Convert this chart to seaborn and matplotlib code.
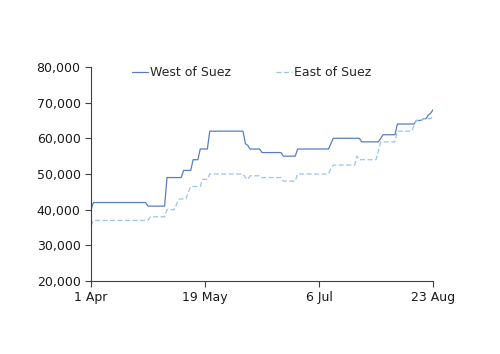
import matplotlib
matplotlib.use('Agg')
import matplotlib.pyplot as plt
import numpy as np
import pandas as pd
import seaborn as sns

# daily freight values, stored as (level, number of days) runs
west_levels = [40000, 42000, 41000, 49000, 51000, 54000, 57000, 62000, 58500, 58000,
               57000, 56000, 55000, 57000, 58500, 60000, 59000, 60000, 61000, 64000,
               65000, 65500, 66500, 67000, 68000]
west_days = [1, 23, 8, 7, 4, 3, 4, 15, 1, 1,
             5, 9, 6, 14, 1, 12, 8, 1, 6, 8,
             3, 2, 1, 1, 1]

east_levels = [35500, 37000, 38000, 40000, 41500, 43000, 45000, 46500, 48500, 50000,
               49000, 48500, 49500, 49000, 48000, 50000, 51500, 52500, 55000, 54000,
               56500, 59000, 62000, 63500, 65000, 65500, 66300]
east_days = [1, 24, 7, 4, 1, 4, 1, 5, 3, 15,
             1, 1, 5, 9, 6, 14, 1, 10, 1, 8,
             1, 7, 7, 1, 3, 4, 1]

series_names = ['West of Suez', 'East of Suez']
tick_dates = ['2022-04-01', '2022-05-19', '2022-07-06', '2022-08-23']
tick_labels = ['1 Apr', '19 May', '6 Jul', '23 Aug']
y_ticks = [20000, 30000, 40000, 50000, 60000, 70000, 80000]

west = np.repeat(west_levels, west_days)
east = np.repeat(east_levels, east_days)
dates = pd.date_range('2022-04-01', periods=len(west), freq='D')

df = pd.concat([
    pd.DataFrame({'date': dates, 'value': west, 'route': series_names[0]}),
    pd.DataFrame({'date': dates, 'value': east, 'route': series_names[1]}),
])

sns.set_style('ticks')
plt.rcParams['font.family'] = ['DejaVu Sans']

fig = plt.figure(figsize=(5, 3.54), dpi=100)
ax = fig.add_axes([0.182, 0.206, 0.684, 0.605])

palette = {'West of Suez': '#5a7dbf', 'East of Suez': '#9cc3ea'}
sns.lineplot(data=df, x='date', y='value', hue='route', style='route',
             dashes={'West of Suez': '', 'East of Suez': (4, 2)},
             palette=palette, linewidth=0.9, ax=ax)

ax.set_xlim(pd.Timestamp(tick_dates[0]), pd.Timestamp(tick_dates[-1]))
ax.set_ylim(20000, 80000)
ax.set_xticks([pd.Timestamp(d) for d in tick_dates])
ax.set_xticklabels(tick_labels)
ax.set_yticks(y_ticks)
ax.set_yticklabels([f'{v:,}' for v in y_ticks])
ax.set_xlabel('')
ax.set_ylabel('')

for s in ['top', 'right']:
    ax.spines[s].set_visible(False)
for s in ['left', 'bottom']:
    ax.spines[s].set_color('#404040')
    ax.spines[s].set_linewidth(0.8)
ax.tick_params(axis='both', labelsize=9, colors='#404040', labelcolor='#1a1a1a',
               length=4, width=0.8, direction='out')

leg = ax.legend(loc='center', bbox_to_anchor=(0.469, 0.972), ncol=2, frameon=False,
                fontsize=9, handlelength=1.3, handletextpad=0.15, columnspacing=3.6)

plt.savefig('out.png', dpi=100)
plt.close('all')
